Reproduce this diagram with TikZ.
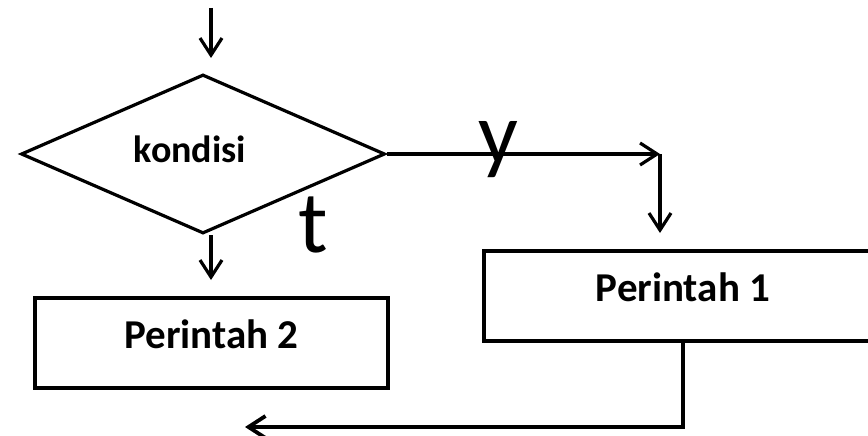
\documentclass[tikz,border=0pt]{standalone}
\usepackage{fontspec}
\setmainfont{Carlito}
\usetikzlibrary{arrows.meta,shapes.geometric}
\begin{document}
\begin{tikzpicture}[x=1pt,y=-1pt,
  flow/.style={line width=3.2pt, -{Straight Barb[length=17pt,width=22pt]}},
  stepbox/.style={draw, line width=3.6pt, minimum height=90pt, inner sep=0pt,
    text height=28pt, text depth=18pt, font=\fontsize{41}{49}\selectfont\bfseries},
  decision/.style={draw, diamond, line width=3.2pt, minimum width=364pt,
    minimum height=159pt, inner sep=0pt},
  condlabel/.style={anchor=base, inner sep=0pt, font=\fontsize{38}{46}\selectfont\bfseries},
  branch/.style={anchor=base, inner sep=0pt, font=\fontsize{88}{100}\selectfont}]
\clip (0,0) rectangle (868,436);

% incoming arrow
\coordinate (in0) at (211,8);
\coordinate (in1) at (211,58);
\draw[flow] (in0) -- (in1);

% decision
\node[decision] (cond) at (203,154) {};
\node[condlabel] (condtext) at (190,162) {kondisi};

% yes branch
\coordinate (ycorner) at (660,154);
\coordinate (ydrop) at (660,233);
\draw[flow] (cond.east) -- (ycorner);
\draw[flow] (ycorner) -- (ydrop);
\node[branch] (ylab) at (498,163) {y};

% no branch
\coordinate (tdrop) at (211,280);
\draw[flow] (cond.south -| in0) -- (tdrop);
\node[branch] (tlab) at (313,252) {t};

% statements
\node[stepbox, minimum width=398pt] (p1) at (683,296) {Perintah 1};
\node[stepbox, minimum width=353pt] (p2) at (211.5,343) {Perintah 2};

% return path
\coordinate (back0) at (683,427);
\coordinate (back1) at (245,427);
\draw[flow, line width=3.8pt] (p1.south) -- (back0) -- (back1);
\end{tikzpicture}
\end{document}
